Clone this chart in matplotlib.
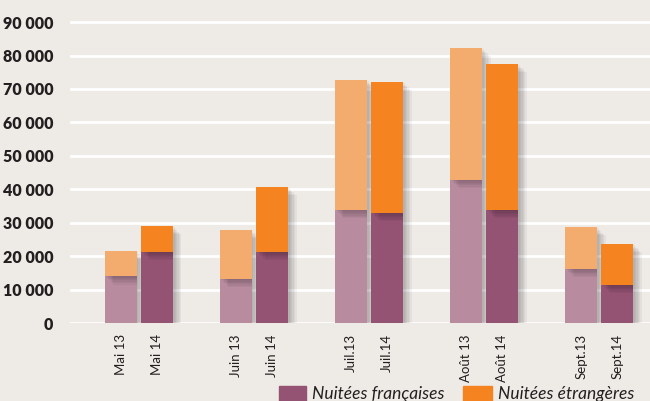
import numpy as np
import matplotlib.pyplot as plt
import matplotlib.patheffects as pe
from matplotlib.patches import Rectangle

# Data
months = ['Mai', 'Juin', 'Juil.', 'Août', 'Sept.']
labels_13 = ['Mai 13', 'Juin 13', 'Juil.13', 'Août 13', 'Sept.13']
labels_14 = ['Mai 14', 'Juin 14', 'Juil.14', 'Août 14', 'Sept.14']
fr_13 = [14000, 13200, 33800, 42800, 16200]
et_13 = [7500, 14600, 38900, 39500, 12500]
fr_14 = [21300, 21300, 32900, 33800, 11400]
et_14 = [7700, 19400, 39200, 43700, 12300]
yticks = [0, 10000, 20000, 30000, 40000, 50000, 60000, 70000, 80000, 90000]

bg = '#eeeae6'
purple_light = '#b88b9f'
purple_dark = '#955374'
orange_light = '#f3ac6d'
orange_dark = '#f58320'

plt.rcParams['font.family'] = ['Lato', 'DejaVu Sans']

fig = plt.figure(figsize=(6.5, 4.01), dpi=100, facecolor=bg)
ax = fig.add_axes([70 / 650, (401 - 323) / 401, 580 / 650, 321 / 401], facecolor=bg)

x = np.arange(len(months))
off = 0.157
w = 0.278

# soft drop shadow faked with a few stacked offsets
shadow = [pe.SimplePatchShadow(offset=(d, -d), shadow_rgbFace='black', alpha=0.045)
          for d in (1, 2, 3, 4, 5, 6)] + [pe.Normal()]

bars = [
    ax.bar(x - off, fr_13, w, color=purple_light, zorder=3),
    ax.bar(x - off, et_13, w, bottom=fr_13, color=orange_light, zorder=3),
    ax.bar(x + off, fr_14, w, color=purple_dark, zorder=3),
    ax.bar(x + off, et_14, w, bottom=fr_14, color=orange_dark, zorder=3),
]
for b in bars:
    for p in b:
        p.set_path_effects(shadow)

ax.set_ylim(0, 96000)
ax.set_xlim(-0.6, 4.44)
ax.set_yticks(yticks)
ax.set_yticklabels([f'{v:,}'.replace(',', ' ') for v in yticks],
                   fontsize=11.5, fontweight='heavy', color='#231f20')
ax.yaxis.grid(True, color='white', linewidth=2, zorder=0)
ax.tick_params(axis='y', length=0, pad=12)

xt = np.concatenate([x - off, x + off])
ax.set_xticks(xt)
ax.set_xticklabels(labels_13 + labels_14, rotation=90, fontsize=9.5, color='#231f20')
ax.tick_params(axis='x', length=0, pad=8)

for s in ax.spines.values():
    s.set_visible(False)

# legend drawn along bottom edge
fig.patches.append(Rectangle((279 / 650, 0), 27 / 650, 15 / 401,
                             transform=fig.transFigure, color=purple_dark))
fig.text(312 / 650, 2 / 401, 'Nuitées françaises', fontsize=12.5, style='italic',
         color='#231f20', va='baseline')
fig.patches.append(Rectangle((463 / 650, 0), 29 / 650, 15 / 401,
                             transform=fig.transFigure, color=orange_dark))
fig.text(498 / 650, 2 / 401, 'Nuitées étrangères', fontsize=12.5, style='italic',
         color='#231f20', va='baseline')

fig.savefig('out.png', dpi=100, facecolor=bg)
